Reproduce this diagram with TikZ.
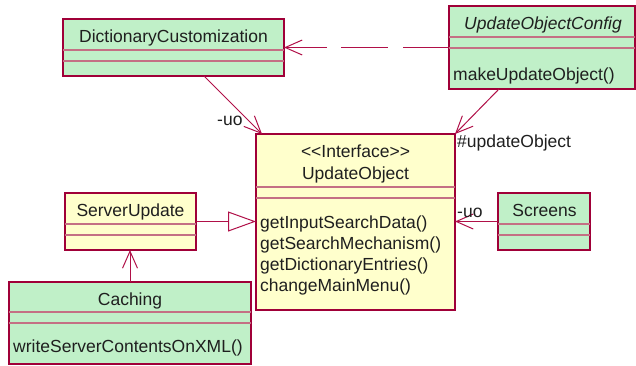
\documentclass[tikz,border=0pt]{standalone}
\usepackage{fontspec}
\setmainfont{Liberation Sans}
\usetikzlibrary{arrows.meta,calc}
\definecolor{gfill}{RGB}{192,240,200}
\definecolor{yfill}{RGB}{255,255,204}
\definecolor{bord}{RGB}{160,0,56}
\definecolor{sepc}{RGB}{196,112,132}
\definecolor{connc}{RGB}{176,16,72}
\begin{document}
\begin{tikzpicture}[x=1pt,y=-1pt,
  cls/.style={draw=bord,line width=1.4pt,anchor=north west,inner sep=0pt,outer sep=0pt},
  gcls/.style={cls,fill=gfill},
  ycls/.style={cls,fill=yfill},
  sepline/.style={draw=sepc,line width=1.4pt},
  txt/.style={font=\fontsize{17.5}{21}\selectfont,inner sep=0pt,text=black!88},
  conn/.style={draw=connc,line width=1pt},
  barb/.style={-{Straight Barb[length=17pt,width=15pt]}},
  rbarb/.style={{Straight Barb[length=17pt,width=15pt]}-},
  real/.style={-{Triangle[open,length=28pt,width=20pt,fill=white]}}]
\useasboundingbox (0,0) rectangle (636,365);

% DictionaryCustomization
\node[gcls,minimum width=221pt,minimum height=57pt] (dc) at (63,19) {};
\draw[sepline] ($(dc.north west)+(0,31)$) -- ($(dc.north east)+(0,31)$);
\draw[sepline] ($(dc.north west)+(0,42)$) -- ($(dc.north east)+(0,42)$);
\node[txt,anchor=base] (dcn) at (173.5,42) {DictionaryCustomization};

% UpdateObjectConfig
\node[gcls,minimum width=186pt,minimum height=83pt] (uoc) at (449,6) {};
\draw[sepline] ($(uoc.north west)+(0,31)$) -- ($(uoc.north east)+(0,31)$);
\draw[sepline] ($(uoc.north west)+(0,42)$) -- ($(uoc.north east)+(0,42)$);
\node[txt,anchor=base] (uocn) at (543,29) {\itshape UpdateObjectConfig};
\node[txt,anchor=base west] (uocm) at (453,80) {makeUpdateObject()};

% UpdateObject
\node[ycls,minimum width=199pt,minimum height=176pt] (uo) at (256,134) {};
\draw[sepline] ($(uo.north west)+(0,53)$) -- ($(uo.north east)+(0,53)$);
\draw[sepline] ($(uo.north west)+(0,64)$) -- ($(uo.north east)+(0,64)$);
\node[txt,anchor=base] (uos) at (355.5,157) {<{}<Interface>{}>};
\node[txt,anchor=base] (uon) at (355.5,179) {UpdateObject};
\node[txt,anchor=base west] (uom1) at (260,228) {getInputSearchData()};
\node[txt,anchor=base west] (uom2) at (260,249) {getSearchMechanism()};
\node[txt,anchor=base west] (uom3) at (260,270) {getDictionaryEntries()};
\node[txt,anchor=base west] (uom4) at (260,291) {changeMainMenu()};

% ServerUpdate
\node[ycls,minimum width=131pt,minimum height=57pt] (su) at (65,193) {};
\draw[sepline] ($(su.north west)+(0,31)$) -- ($(su.north east)+(0,31)$);
\draw[sepline] ($(su.north west)+(0,42)$) -- ($(su.north east)+(0,42)$);
\node[txt,anchor=base] (sun) at (130.5,216) {ServerUpdate};

% Caching
\node[gcls,minimum width=242pt,minimum height=82pt] (ca) at (9,282) {};
\draw[sepline] ($(ca.north west)+(0,30)$) -- ($(ca.north east)+(0,30)$);
\draw[sepline] ($(ca.north west)+(0,41)$) -- ($(ca.north east)+(0,41)$);
\node[txt,anchor=base] (can) at (130,305.5) {Caching};
\node[txt,anchor=base west] (cam) at (13,352.5) {writeServerContentsOnXML()};

% Screens
\node[gcls,minimum width=92pt,minimum height=57pt] (sc) at (498,193) {};
\draw[sepline] ($(sc.north west)+(0,31)$) -- ($(sc.north east)+(0,31)$);
\draw[sepline] ($(sc.north west)+(0,42)$) -- ($(sc.north east)+(0,42)$);
\node[txt,anchor=base] (scn) at (544.5,216) {Screens};

% connectors
\draw[conn,dash pattern=on 43pt off 14pt on 47pt off 15pt on 80pt off 0pt] (dc.east) -- (uoc.west);
\draw[conn,rbarb] (dc.east) -- ($(dc.east)+(43,0)$);
\draw[conn,barb] ($(dc.south west)+(141,0)$) -- ($(uo.north west)+(6,0)$);
\draw[conn,barb] ($(uoc.south west)+(50,0)$) -- (uo.north east);
\draw[conn,real] (su.east) -- (su.east -| uo.west);
\draw[conn,barb] (ca.north) -- (ca.north |- su.south);
\draw[conn,barb] (sc.west) -- (sc.west -| uo.east);

% labels
\node[txt,anchor=base west] (l1) at (217,125) {-uo};
\node[txt,anchor=base west] (l2) at (457,147) {\#updateObject};
\node[txt,anchor=base west] (l3) at (457,217) {-uo};
\end{tikzpicture}
\end{document}
